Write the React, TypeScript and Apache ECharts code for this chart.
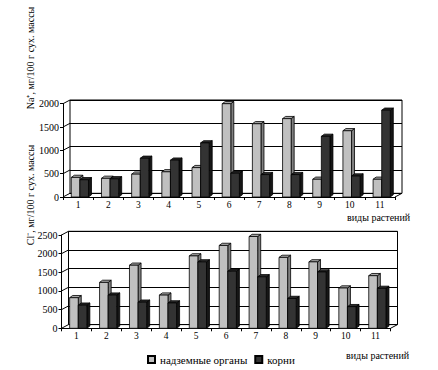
import React, { useEffect, useRef } from "react";
import * as echarts from "echarts";

const categories = ["1", "2", "3", "4", "5", "6", "7", "8", "9", "10", "11"];
const seriesNames = ["надземные органы", "корни"];
const naShoots = [420, 400, 490, 540, 630, 2000, 1570, 1680, 380, 1420, 380];
const naRoots = [370, 390, 830, 790, 1160, 510, 480, 480, 1300, 450, 1860];
const clShoots = [820, 1230, 1690, 890, 1940, 2220, 2460, 1900, 1780, 1080, 1410];
const clRoots = [620, 890, 700, 680, 1780, 1530, 1380, 800, 1510, 580, 1070];
const naTicks = [0, 500, 1000, 1500, 2000];
const clTicks = [0, 500, 1000, 1500, 2000, 2500];

const FONT = "'Liberation Serif', 'Times New Roman', serif";
const DX = 7;
const DY = -3.7;
const BAR_W = 8.6;
const BDX = 3;
const BDY = -2.2;

const faces = {
  light: { front: "#c0c0c0", top: "#a8a8a8", side: "#808080" },
  dark: { front: "#333333", top: "#2a2a2a", side: "#161616" },
};

function barRender(offset: number, pal: { front: string; top: string; side: string }) {
  return (params: any, api: any) => {
    const idx = api.value(0);
    const v = api.value(1);
    const top = api.coord([idx, v]);
    const base = api.coord([idx, 0]);
    const x0 = top[0] + offset;
    const y0 = top[1];
    const yb = base[1];
    const w = BAR_W;
    const stroke = { stroke: "#000", lineWidth: 0.8 };
    return {
      type: "group",
      children: [
        {
          type: "polygon",
          shape: { points: [[x0 + w, y0], [x0 + w + BDX, y0 + BDY], [x0 + w + BDX, yb + BDY], [x0 + w, yb]] },
          style: { fill: pal.side, ...stroke },
        },
        {
          type: "polygon",
          shape: { points: [[x0, y0], [x0 + BDX, y0 + BDY], [x0 + w + BDX, y0 + BDY], [x0 + w, y0]] },
          style: { fill: pal.top, ...stroke },
        },
        {
          type: "rect",
          shape: { x: x0, y: y0, width: w, height: yb - y0 },
          style: { fill: pal.front, ...stroke },
        },
      ],
    };
  };
}

function diagRender(params: any, api: any) {
  const v = api.value(1);
  const p = api.coord([0, v]);
  const half = api.size([1, 0])[0] / 2;
  const left = p[0] - half;
  const children: any[] = [
    { type: "line", shape: { x1: left, y1: p[1], x2: left + DX, y2: p[1] + DY }, style: { stroke: "#000", lineWidth: 1 } },
  ];
  if (v === 0) {
    const r = api.coord([categories.length - 1, 0])[0] + half;
    children.push({ type: "line", shape: { x1: r, y1: p[1], x2: r + DX, y2: p[1] + DY }, style: { stroke: "#000", lineWidth: 1 } });
  }
  return { type: "group", children };
}

function buildPanel(
  gi: number,
  front: { left: number; top: number; width: number; height: number },
  max: number,
  ticks: number[],
  shoots: number[],
  roots: number[]
) {
  const backIdx = gi * 2;
  const frontIdx = gi * 2 + 1;
  const grids = [
    {
      left: front.left + DX,
      top: front.top + DY,
      width: front.width,
      height: front.height,
      show: true,
      borderColor: "#000",
      borderWidth: 1,
      backgroundColor: "transparent",
    },
    { left: front.left, top: front.top, width: front.width, height: front.height },
  ];
  const xAxes = [
    { gridIndex: backIdx, type: "category", data: categories, show: false },
    {
      gridIndex: frontIdx,
      type: "category",
      data: categories,
      axisLine: { show: true, lineStyle: { color: "#000", width: 1 } },
      axisTick: { show: true, length: 3, lineStyle: { color: "#000" } },
      axisLabel: { color: "#000", fontFamily: FONT, fontSize: 9.5, margin: 3 },
    },
  ];
  const yAxes = [
    {
      gridIndex: backIdx,
      type: "value",
      min: 0,
      max,
      interval: 500,
      axisLine: { show: false },
      axisTick: { show: false },
      axisLabel: { show: false },
      splitLine: { show: true, lineStyle: { color: "#000", width: 1 } },
    },
    {
      gridIndex: frontIdx,
      type: "value",
      min: 0,
      max,
      interval: 500,
      axisLine: { show: true, lineStyle: { color: "#000", width: 1 } },
      axisTick: { show: true, length: 3, lineStyle: { color: "#000" } },
      axisLabel: { color: "#000", fontFamily: FONT, fontSize: 10, margin: 4, formatter: (v: number) => String(v) },
      splitLine: { show: false },
    },
  ];
  const series = [
    {
      type: "custom",
      xAxisIndex: frontIdx,
      yAxisIndex: frontIdx,
      silent: true,
      renderItem: diagRender,
      data: ticks.map((t) => [0, t]),
      z: 1,
    },
    {
      name: seriesNames[0],
      type: "custom",
      xAxisIndex: frontIdx,
      yAxisIndex: frontIdx,
      renderItem: barRender(-6.8, faces.light),
      itemStyle: { color: faces.light.front, borderColor: "#000", borderWidth: 1 },
      data: shoots.map((v, i) => [i, v]),
      z: 2,
    },
    {
      name: seriesNames[1],
      type: "custom",
      xAxisIndex: frontIdx,
      yAxisIndex: frontIdx,
      renderItem: barRender(-6.8 + BAR_W, faces.dark),
      itemStyle: { color: faces.dark.front, borderColor: "#000", borderWidth: 1 },
      data: roots.map((v, i) => [i, v]),
      z: 3,
    },
  ];
  return { grids, xAxes, yAxes, series };
}

export default function App() {
  const ref = useRef<HTMLDivElement>(null);
  useEffect(() => {
    document.body.style.margin = "0";
    if (!ref.current) return;
    const chart = echarts.init(ref.current, undefined, { renderer: "svg" });
    const p1 = buildPanel(0, { left: 63, top: 103.7, width: 332, height: 93.3 }, 2000, naTicks, naShoots, naRoots);
    const p2 = buildPanel(1, { left: 61.5, top: 235, width: 329, height: 93.3 }, 2500, clTicks, clShoots, clRoots);
    const titleStyle = { fill: "#000", fontFamily: FONT, fontSize: 10 };
    chart.setOption({
      animation: false,
      backgroundColor: "#fff",
      grid: [...p1.grids, ...p2.grids],
      xAxis: [...p1.xAxes, ...p2.xAxes],
      yAxis: [...p1.yAxes, ...p2.yAxes],
      series: [...p1.series, ...p2.series],
      legend: {
        data: seriesNames,
        left: 147,
        top: 354,
        padding: 0,
        icon: "rect",
        itemWidth: 7,
        itemHeight: 7,
        itemGap: 7,
        textStyle: { color: "#000", fontFamily: FONT, fontSize: 11 },
      },
      graphic: [
        {
          type: "text",
          x: 30,
          y: 58,
          rotation: Math.PI / 2,
          style: { ...titleStyle, text: "Na⁺, мг/100 г сух. массы", textAlign: "center", textVerticalAlign: "middle" },
        },
        {
          type: "text",
          x: 30,
          y: 195,
          rotation: Math.PI / 2,
          style: { ...titleStyle, text: "Cl⁻, мг/100 г сух. массы", textAlign: "center", textVerticalAlign: "middle" },
        },
        {
          type: "text",
          x: 347,
          y: 217,
          style: { ...titleStyle, text: "виды растений", textAlign: "left", textVerticalAlign: "middle" },
        },
        {
          type: "text",
          x: 346,
          y: 355,
          style: { ...titleStyle, text: "виды растений", textAlign: "left", textVerticalAlign: "middle" },
        },
      ],
    });
    return () => chart.dispose();
  }, []);
  return <div ref={ref} style={{ width: 438, height: 370 }} />;
}
